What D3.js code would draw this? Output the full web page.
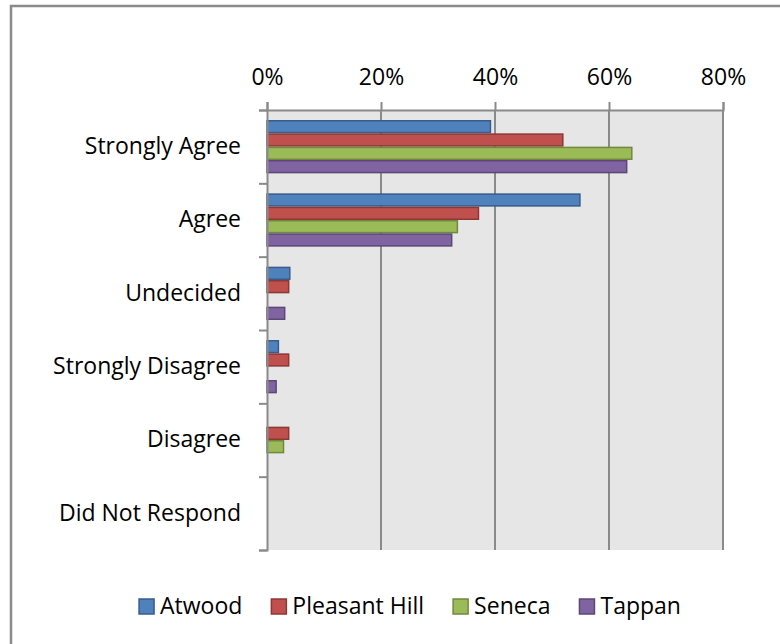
<!DOCTYPE html>
<html>
<meta charset="utf-8">
<style>
  body { margin: 0; background: #fff; }
  text { font-family: "Open Sans", "Noto Sans", sans-serif; fill: #000; }
</style>
<script src="https://d3js.org/d3.v7.min.js"></script>
<body>

<script>
var svgWidth = 780, svgHeight = 644;

// answers, top to bottom
var categories = ["Strongly Agree", "Agree", "Undecided", "Strongly Disagree", "Disagree", "Did Not Respond"];
var schools = ["Atwood", "Pleasant Hill", "Seneca", "Tappan"];

// share of answers per school, same order as categories
var atwood       = [0.392, 0.549, 0.040, 0.020, 0.000, 0];
var pleasantHill = [0.519, 0.371, 0.038, 0.038, 0.038, 0];
var seneca       = [0.640, 0.334, 0.000, 0.000, 0.029, 0];
var tappan       = [0.631, 0.324, 0.031, 0.016, 0.000, 0];

var tickValues = [0, 0.2, 0.4, 0.6, 0.8];

var fills   = ["#4f81bd", "#c0504d", "#9bbb59", "#8064a2"];
var strokes = ["#385d8a", "#8c3836", "#71893f", "#5c4776"];

var series = [atwood, pleasantHill, seneca, tappan];

var svg = d3.select("body")
  .append("svg")
  .attr("width", svgWidth)
  .attr("height", svgHeight);

// chart frame (runs off the right / bottom edge like the picture)
svg.append("rect")
  .attr("x", 11).attr("y", 6)
  .attr("width", 800).attr("height", 700)
  .attr("fill", "none")
  .attr("stroke", "#8a8a8a")
  .attr("stroke-width", 2.5);

// plot area ("top" is taken by window.top, so use other names)
var plotL = 267, plotR = 723, plotT = 110, plotB = 550;

var x = d3.scaleLinear()
  .domain([0, 0.8])
  .range([plotL, plotR]);

var y = d3.scaleBand()
  .domain(categories)
  .range([plotT, plotB]);

var ySub = d3.scaleBand()
  .domain(schools)
  .range([0, y.bandwidth()])
  .paddingInner(0)
  .paddingOuter(0.75);

// plot background
svg.append("rect")
  .attr("x", plotL).attr("y", plotT)
  .attr("width", plotR - plotL).attr("height", plotB - plotT)
  .attr("fill", "#e6e6e6");

// vertical gridlines
svg.selectAll(".grid")
  .data(tickValues.slice(1))
  .enter()
  .append("line")
  .attr("x1", function(d) { return x(d); })
  .attr("x2", function(d) { return x(d); })
  .attr("y1", plotT).attr("y2", plotB)
  .attr("stroke", "#8a8a8a")
  .attr("stroke-width", 2);

// bars
var group = svg.selectAll(".cat")
  .data(categories)
  .enter()
  .append("g")
  .attr("transform", function(d) { return "translate(0," + y(d) + ")"; });

group.selectAll("rect")
  .data(function(d, i) {
    return schools.map(function(s, j) { return { school: s, value: series[j][i], k: j }; })
      .filter(function(e) { return e.value > 0; });
  })
  .enter()
  .append("rect")
  .attr("x", x(0))
  .attr("y", function(d) { return ySub(d.school) + 0.75; })
  .attr("width", function(d) { return x(d.value) - x(0); })
  .attr("height", ySub.bandwidth() - 1.5)
  .attr("fill", function(d) { return fills[d.k]; })
  .attr("stroke", function(d) { return strokes[d.k]; })
  .attr("stroke-width", 1.5);

// top value axis
var xAxis = svg.append("g")
  .attr("transform", "translate(0," + plotT + ")")
  .call(d3.axisTop(x)
    .tickValues(tickValues)
    .tickFormat(d3.format(".0%"))
    .tickSize(8)
    .tickPadding(17));
xAxis.select(".domain").attr("stroke", "#8a8a8a").attr("stroke-width", 2);
xAxis.selectAll(".tick line").attr("stroke", "#8a8a8a").attr("stroke-width", 2);
xAxis.selectAll("text")
  .style("font-family", "'Open Sans', sans-serif")
  .style("font-size", "23px")
  .attr("fill", "#000");

// left category axis: ticks between categories
var yEdge = d3.scaleLinear().domain([0, categories.length]).range([plotT, plotB]);
var yTicks = svg.append("g")
  .attr("transform", "translate(" + plotL + ",0)")
  .call(d3.axisLeft(yEdge).ticks(categories.length).tickFormat("").tickSize(8));
yTicks.select(".domain").attr("stroke", "#8a8a8a").attr("stroke-width", 2);
yTicks.selectAll(".tick line").attr("stroke", "#8a8a8a").attr("stroke-width", 2);

var yLabels = svg.append("g")
  .attr("transform", "translate(" + plotL + ",0)")
  .call(d3.axisLeft(y).tickSize(0).tickPadding(26));
yLabels.select(".domain").remove();
yLabels.selectAll("text")
  .style("font-family", "'Open Sans', sans-serif")
  .style("font-size", "23px")
  .attr("fill", "#000");

// legend
var legend = svg.append("g");
var items = legend.selectAll("g")
  .data(schools)
  .enter()
  .append("g");

items.append("rect")
  .attr("width", 15).attr("height", 15)
  .attr("y", -15)
  .attr("fill", function(d, i) { return fills[i]; })
  .attr("stroke", function(d, i) { return strokes[i]; })
  .attr("stroke-width", 1.5);

items.append("text")
  .attr("x", 21)
  .attr("y", 0)
  .style("font-size", "23px")
  .text(function(d) { return d; });

var pos = 0;
items.each(function() {
  var w = 21 + this.querySelector("text").getComputedTextLength();
  d3.select(this).attr("transform", "translate(" + pos + ",0)");
  pos += w + 29;
});
var legendWidth = pos - 29;
legend.attr("transform", "translate(" + (410 - legendWidth / 2) + ",614)");
</script>
</body>
</html>
